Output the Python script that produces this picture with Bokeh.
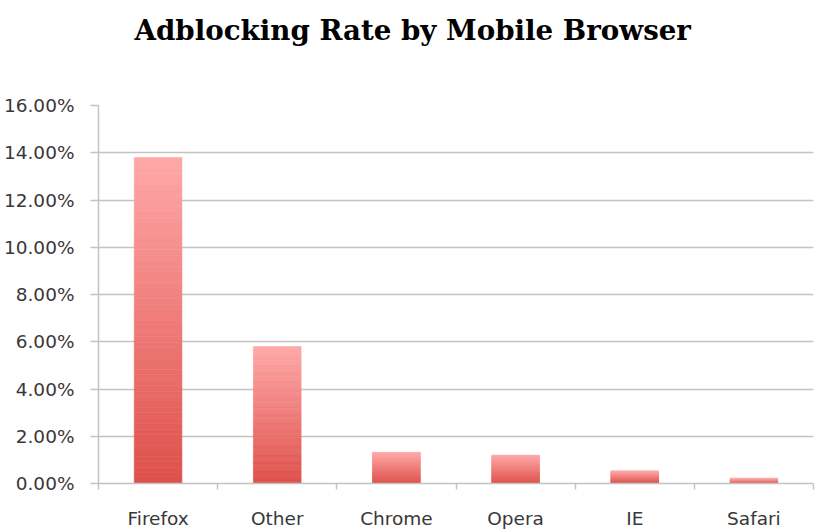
import numpy as np
from bokeh.plotting import figure
from bokeh.models import Range1d, FixedTicker, NumeralTickFormatter, ColumnDataSource
from bokeh.embed import file_html
from bokeh.resources import INLINE

# ---- data ----
browsers = ["Firefox", "Other", "Chrome", "Opera", "IE", "Safari"]
adblock_rate = [0.138, 0.058, 0.0132, 0.0120, 0.0053, 0.0022]
y_ticks = [0.0, 0.02, 0.04, 0.06, 0.08, 0.10, 0.12, 0.14, 0.16]
title_text = "Adblocking Rate by Mobile Browser"

# ---- style ----
TOP_RGB = np.array([255, 168, 168])
BOT_RGB = np.array([222, 80, 74])
SLICES = 60
BAR_W = 0.40
GRID = "#c3c3c3"
LABEL = "#383838"
TICK_FONT = "DejaVu Sans"
TICK_SIZE = "18.5px"

p = figure(width=815, height=531, output_backend="svg", toolbar_location=None,
           x_range=Range1d(0, len(browsers)), y_range=Range1d(0, 0.16),
           min_border_left=96, min_border_right=2, min_border_top=105,
           min_border_bottom=48, outline_line_color=None,
           title=title_text + "\n ")

p.title.align = "left"
p.title.offset = 36
p.title.standoff = 24
p.title.text_line_height = 1.4
p.title.text_font = "DejaVu Serif"
p.title.text_font_style = "bold"
p.title.text_font_size = "27.7px"
p.title.text_color = "#000000"

# gradient bars built from data
lefts, rights, bottoms, tops, colors = [], [], [], [], []
for i, v in enumerate(adblock_rate):
    for k in range(SLICES):
        t = (k + 0.5) / SLICES
        rgb = BOT_RGB + (TOP_RGB - BOT_RGB) * t
        colors.append("#%02x%02x%02x" % tuple(int(round(c)) for c in rgb))
        lefts.append(i + 0.5 - BAR_W / 2)
        rights.append(i + 0.5 + BAR_W / 2)
        bottoms.append(v * k / SLICES)
        tops.append(v * (k + 1) / SLICES)
src = ColumnDataSource(dict(left=lefts, right=rights, bottom=bottoms, top=tops, color=colors))
p.quad(left="left", right="right", bottom="bottom", top="top", source=src,
       fill_color="color", line_color="color", line_width=0.6)

# axes
p.xaxis.ticker = FixedTicker(ticks=[i + 0.5 for i in range(len(browsers))],
                             minor_ticks=list(range(len(browsers) + 1)))
p.xaxis.major_label_overrides = {i + 0.5: b for i, b in enumerate(browsers)}
p.xaxis.major_tick_line_color = None
p.xaxis.minor_tick_line_color = GRID
p.xaxis.minor_tick_line_width = 1.5
p.xaxis.minor_tick_in = 0
p.xaxis.minor_tick_out = 6
p.xaxis.axis_line_color = GRID
p.xaxis.axis_line_width = 1.5
p.xaxis.major_label_standoff = 18
p.xaxis.major_label_text_font = TICK_FONT
p.xaxis.major_label_text_font_size = TICK_SIZE
p.xaxis.major_label_text_color = LABEL

p.yaxis.ticker = FixedTicker(ticks=y_ticks)
p.yaxis.formatter = NumeralTickFormatter(format="0.00%")
p.yaxis.minor_tick_line_color = None
p.yaxis.major_tick_line_color = GRID
p.yaxis.major_tick_line_width = 1.5
p.yaxis.major_tick_in = 0
p.yaxis.major_tick_out = 8
p.yaxis.axis_line_color = GRID
p.yaxis.axis_line_width = 1.5
p.yaxis.major_label_standoff = 16
p.yaxis.major_label_text_font = TICK_FONT
p.yaxis.major_label_text_font_size = TICK_SIZE
p.yaxis.major_label_text_color = LABEL

p.xgrid.grid_line_color = None
p.ygrid.ticker = FixedTicker(ticks=y_ticks)
p.ygrid.grid_line_color = GRID
p.ygrid.grid_line_width = 1.5

open("out.html", "w").write(file_html(p, INLINE))
